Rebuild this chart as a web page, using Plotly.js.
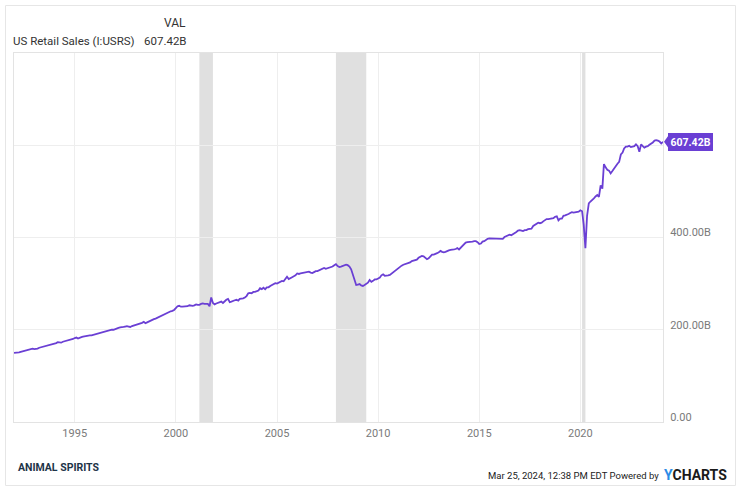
<!DOCTYPE html>
<html>
<head>
<meta charset="utf-8">
<script src="https://cdn.plot.ly/plotly-3.0.1.min.js"></script>
<style>
  html, body { margin: 0; padding: 0; background: #ffffff; }
  #chart { width: 738px; height: 488px; }
</style>
</head>
<body>
<div id="chart"></div>
<script>
// ---- Data (US Retail Sales, I:USRS, billions USD, monthly from Jan 1992) ----
const seriesName = 'US Retail Sales (I:USRS)';
const startYear = 1992;
const retailSales = [
  // 1992
  150, 150, 150, 151, 152, 153, 154, 155, 155, 157, 158, 159,
  // 1993
  158, 158, 159, 161, 162, 163, 164, 164, 165, 166, 168, 169,
  // 1994
  169, 171, 173, 172, 172, 174, 175, 176, 176, 177, 178, 180,
  // 1995
  182, 183, 181, 183, 184, 185, 186, 186, 187, 188, 188, 189,
  // 1996
  190, 192, 193, 194, 195, 195, 196, 197, 198, 199, 200, 200,
  // 1997
  202, 203, 204, 205, 205, 206, 207, 208, 207, 206, 208, 209,
  // 1998
  210, 211, 212, 213, 215, 217, 214, 216, 218, 220, 221, 223,
  // 1999
  224, 226, 227, 229, 231, 232, 234, 236, 238, 240, 241, 243,
  // 2000
  247, 251, 252, 250, 250, 250, 251, 251, 253, 252, 252, 253,
  // 2001
  255, 254, 254, 256, 257, 256, 256, 256, 251, 270, 258, 255,
  // 2002
  257, 259, 260, 261, 258, 262, 265, 267, 260, 261, 263, 264,
  // 2003
  265, 263, 267, 267, 268, 270, 273, 279, 280, 279, 282, 282,
  // 2004
  283, 285, 290, 288, 291, 288, 292, 292, 295, 297, 298, 301,
  // 2005
  300, 302, 304, 306, 305, 310, 315, 310, 313, 314, 316, 318,
  // 2006
  322, 321, 322, 323, 323, 324, 326, 326, 324, 323, 325, 327,
  // 2007
  327, 329, 330, 332, 334, 332, 333, 334, 336, 337, 340, 342,
  // 2008
  338, 336, 337, 338, 340, 341, 340, 337, 331, 321, 307, 297,
  // 2009
  298, 299, 296, 295, 297, 300, 302, 308, 304, 306, 309, 309,
  // 2010
  311, 313, 318, 320, 317, 317, 318, 319, 322, 325, 328, 330,
  // 2011
  335, 337, 339, 341, 342, 344, 345, 346, 349, 350, 351, 352,
  // 2012
  356, 359, 360, 359, 356, 353, 355, 359, 363, 363, 364, 366,
  // 2013
  368, 371, 369, 368, 369, 371, 372, 373, 373, 374, 375, 377,
  // 2014
  374, 378, 383, 387, 389, 390, 390, 391, 391, 392, 392, 390,
  // 2015
  386, 387, 391, 392, 395, 397, 398, 398, 397, 397, 398, 397,
  // 2016
  398, 398, 397, 401, 403, 404, 406, 405, 407, 409, 412, 415,
  // 2017
  416, 415, 414, 416, 416, 418, 418, 419, 425, 428, 431, 432,
  // 2018
  431, 432, 435, 437, 440, 440, 441, 442, 442, 445, 446, 437,
  // 2019
  441, 441, 447, 448, 449, 451, 453, 455, 454, 455, 456, 456,
  // 2020
  459, 457, 428, 377, 447, 474, 478, 481, 485, 489, 492, 488,
  // 2021
  513, 506, 559, 552, 547, 545, 539, 544, 550, 555, 560, 564,
  // 2022
  580, 584, 593, 597, 597, 599, 596, 597, 598, 602, 598, 586,
  // 2023
  602, 598, 595, 597, 598, 601, 603, 606, 610, 611, 610, 608,
  // 2024
  604, 607.42
];
const lastValueLabel = '607.42B';
const recessionStarts = ['2001-03-01', '2007-12-01', '2020-02-01'];
const recessionEnds   = ['2001-11-01', '2009-06-01', '2020-04-01'];
const yTickVals  = [0, 200, 400, 600];
const yTickText  = ['0.00', '200.00B', '400.00B', ''];
const xTickVals  = ['1995-01-01', '2000-01-01', '2005-01-01', '2010-01-01', '2015-01-01', '2020-01-01'];
const xTickText  = ['1995', '2000', '2005', '2010', '2015', '2020'];
const xRange = ['1992-01-01', '2024-02-01'];
const yRange = [0, 800];

// ---- Build dates (monthly) ----
const dates = retailSales.map((_, i) => {
  const y = startYear + Math.floor(i / 12);
  const m = (i % 12) + 1;
  return y + '-' + String(m).padStart(2, '0') + '-01';
});

// ---- Styling ----
const purple = '#6a3fd4';
const gridColor = '#eeeeee';
const frameColor = '#e3e3e3';
const W = 738, H = 488;
const M = { l: 14, r: 75, t: 53, b: 66 };
const pw = W - M.l - M.r, ph = H - M.t - M.b;
const px = (x) => (x - M.l) / pw;   // pixel -> paper x
const py = (y) => (H - M.b - y) / ph; // pixel -> paper y

const lastVal = retailSales[retailSales.length - 1];

const trace = {
  type: 'scatter',
  mode: 'lines',
  x: dates,
  y: retailSales,
  line: { color: purple, width: 1.8 },
  hoverinfo: 'skip',
  showlegend: false
};

const shapes = recessionStarts.map((s, i) => ({
  type: 'rect', xref: 'x', yref: 'paper',
  x0: s, x1: recessionEnds[i], y0: 0, y1: 1,
  fillcolor: '#e0e0e0', line: { width: 0 }, layer: 'below'
}));

// outer frame
shapes.push({
  type: 'rect', xref: 'paper', yref: 'paper',
  x0: px(5.5), x1: px(735.5), y0: py(485.5), y1: py(5.5),
  line: { color: '#e6e6e6', width: 1 }, fillcolor: 'rgba(0,0,0,0)', layer: 'above'
});

// flag arrow
shapes.push({
  type: 'path', xref: 'paper', yref: 'y',
  xsizemode: 'pixel', ysizemode: 'pixel',
  xanchor: 1, yanchor: lastVal,
  path: 'M1,0 L6,7 L6,-7 Z',
  fillcolor: purple, line: { width: 0 }, layer: 'above'
});

const font = 'Roboto, "Open Sans", sans-serif';

const annotations = [
  { xref: 'paper', yref: 'paper', x: px(188), y: py(23), xanchor: 'right', yanchor: 'middle',
    text: 'VAL', showarrow: false, font: { family: font, size: 12, color: '#333333' } },
  { xref: 'paper', yref: 'paper', x: px(11), y: py(41), xanchor: 'left', yanchor: 'middle',
    text: seriesName, showarrow: false, font: { family: font, size: 11.5, color: '#333333' } },
  { xref: 'paper', yref: 'paper', x: px(189), y: py(41), xanchor: 'right', yanchor: 'middle',
    text: lastValueLabel, showarrow: false, font: { family: font, size: 11.5, color: '#333333' } },
  // value flag
  { xref: 'paper', yref: 'y', x: 1, y: lastVal, xanchor: 'left', yanchor: 'middle', xshift: 5,
    text: '<b>' + lastValueLabel + '</b>', showarrow: false,
    bgcolor: purple, borderpad: 2.5, borderwidth: 0,
    font: { family: font, size: 10.5, color: '#ffffff' } },
  // logo
  { xref: 'paper', yref: 'paper', x: px(16), y: py(467), xanchor: 'left', yanchor: 'middle',
    text: '<b>ANIMAL SPIRITS</b>', showarrow: false,
    font: { family: font, size: 10.5, color: '#1e3448' } },
  // footer
  { xref: 'paper', yref: 'paper', x: px(661), y: py(475), xanchor: 'right', yanchor: 'middle',
    text: 'Mar 25, 2024, 12:38 PM EDT Powered by', showarrow: false,
    font: { family: font, size: 9.5, color: '#222222' } },
  { xref: 'paper', yref: 'paper', x: px(729), y: py(475), xanchor: 'right', yanchor: 'middle',
    text: '<span style="color:#2b8be6">Y</span>CHARTS', showarrow: false,
    font: { family: font, size: 14, color: '#1a1a1a', weight: 700 } }
];

const layout = {
  width: W, height: H,
  margin: M,
  paper_bgcolor: '#ffffff', plot_bgcolor: '#ffffff',
  showlegend: false,
  xaxis: {
    type: 'date', range: xRange,
    tickvals: xTickVals, ticktext: xTickText,
    showgrid: true, gridcolor: gridColor, gridwidth: 1,
    showline: true, linecolor: frameColor, linewidth: 1, mirror: true,
    ticks: '', ticklabelstandoff: 1,
    zeroline: false, fixedrange: true,
    tickfont: { family: font, size: 11, color: '#7a7a7a' }
  },
  yaxis: {
    range: yRange, side: 'right',
    tickvals: yTickVals, ticktext: yTickText,
    showgrid: true, gridcolor: gridColor, gridwidth: 1,
    showline: true, linecolor: frameColor, linewidth: 1, mirror: true,
    ticks: '', ticklabelstandoff: 4, ticklabelshift: -5,
    zeroline: false, fixedrange: true,
    tickfont: { family: font, size: 11, color: '#7a7a7a' }
  },
  shapes: shapes,
  annotations: annotations
};

Plotly.newPlot('chart', [trace], layout, { staticPlot: true, displayModeBar: false });
</script>
</body>
</html>
